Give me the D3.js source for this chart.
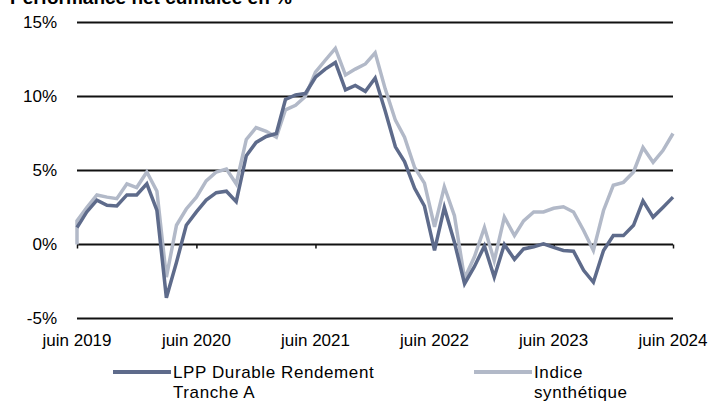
<!DOCTYPE html>
<html>
<head>
<meta charset="utf-8">
<script src="https://cdn.jsdelivr.net/npm/d3@7"></script>
<style>
  body { margin: 0; background: #fff; }
  text { font-family: "Liberation Sans", Arial, sans-serif; fill: #000; }
</style>
</head>
<body>
<script>
// monthly points, juin 2019 -> juin 2024
const startDate = new Date(2019, 5, 1);
const endDate = new Date(2024, 5, 1);
const months = d3.timeMonth.range(startDate, d3.timeMonth.offset(endDate, 1));

const fund = [1.15, 2.2, 3.0, 2.65, 2.6, 3.35, 3.35, 4.1, 2.3, -3.6,
  -1.2, 1.3, 2.2, 3.0, 3.5, 3.6, 2.9, 6.0, 6.9, 7.3,
  7.5, 9.8, 10.1, 10.2, 11.3, 11.85, 12.3, 10.45, 10.75, 10.35,
  11.25, 9.0, 6.6, 5.6, 3.8, 2.6, -0.4, 2.5, 0.15, -2.65,
  -1.5, -0.1, -2.2, 0.0, -1.0, -0.3, -0.15, 0.05, -0.2, -0.4,
  -0.45, -1.75, -2.55, -0.4, 0.6, 0.6, 1.3, 2.95, 1.85, 2.5, 3.2];

const indice = [1.6, 2.5, 3.35, 3.2, 3.1, 4.1, 3.85, 4.9, 3.6, -2.2,
  1.3, 2.4, 3.2, 4.3, 4.9, 5.1, 4.1, 7.1, 7.9, 7.65,
  7.25, 9.1, 9.4, 10.0, 11.65, 12.45, 13.25, 11.45, 11.85, 12.2,
  12.95, 10.5, 8.4, 7.25, 5.2, 4.15, 1.2, 3.9, 1.95, -2.3,
  -0.85, 1.15, -1.1, 1.85, 0.6, 1.6, 2.2, 2.2, 2.45, 2.55,
  2.2, 0.95, -0.4, 2.3, 4.0, 4.2, 4.9, 6.55, 5.55, 6.35, 7.5];
const indiceStart = 0;

const yTicks = [-5, 0, 5, 10, 15];
const xTickLabels = ["juin 2019", "juin 2020", "juin 2021", "juin 2022", "juin 2023", "juin 2024"];
const seriesNames = [["LPP Durable Rendement", "Tranche A"], ["Indice", "synthétique"]];
const colors = ["#5e6b8b", "#b2b9c8"];

const W = 713, H = 401;
const svg = d3.select('body').append('svg')
              .attr('width', W)
              .attr('height', H);

const x = d3.scaleTime().domain([startDate, endDate]).range([77, 673]);
const y = d3.scaleLinear().domain([-5, 15]).range([318.5, 22.5]);

svg.append('text').attr('x', 10).attr('y', 4)
   .style('font-weight', 'bold').style('font-size', '19px')
   .text("Performance net cumulée en %");

// horizontal grid
svg.append('g').selectAll('line').data(yTicks).join('line')
   .attr('x1', x.range()[0]).attr('x2', x.range()[1])
   .attr('y1', d => y(d)).attr('y2', d => y(d))
   .style('stroke', '#111').style('stroke-width', 2);

svg.append('g').selectAll('text').data(yTicks).join('text')
   .attr('x', 57).attr('y', d => y(d)).attr('dy', '0.35em')
   .attr('text-anchor', 'end').style('font-size', '17px')
   .text(d => d + '%');

// x axis on 0 line
const yearTicks = xTickLabels.map((t, i) => new Date(2019 + i, 5, 1));
const xAxis = d3.axisBottom(x).tickValues(yearTicks)
                .tickFormat((d, i) => xTickLabels[i]).tickSize(4).tickPadding(0);
const ax = svg.append('g').attr('transform', `translate(0,${y(0)})`).call(xAxis);
ax.select('.domain').remove();
ax.selectAll('.tick line').style('stroke', '#111').style('stroke-width', 1.5);
ax.selectAll('.tick text').remove();

svg.append('g').selectAll('text').data(yearTicks).join('text')
   .attr('x', d => x(d)).attr('y', 346)
   .attr('text-anchor', 'middle').style('font-size', '17px')
   .text((d, i) => xTickLabels[i]);

const line = d3.line().x(d => x(d[0])).y(d => y(d[1]));

const indicePts = [[startDate, indiceStart]].concat(months.map((m, i) => [m, indice[i]]));
const fundPts = months.map((m, i) => [m, fund[i]]);

svg.append('path').datum(indicePts).attr('d', line)
   .style('fill', 'none').style('stroke', colors[1]).style('stroke-width', 3.5)
   .style('stroke-linejoin', 'miter');
svg.append('path').datum(fundPts).attr('d', line)
   .style('fill', 'none').style('stroke', colors[0]).style('stroke-width', 3.5)
   .style('stroke-linejoin', 'miter');

// legend
const legendX = [113, 474];
seriesNames.forEach((names, i) => {
  const g = svg.append('g').attr('transform', `translate(${legendX[i]},372)`);
  g.append('line').attr('x1', 0).attr('x2', 58)
   .style('stroke', colors[i]).style('stroke-width', 4);
  names.forEach((n, j) => {
    g.append('text').attr('x', 60).attr('y', 6 + j * 20)
     .style('font-size', '17px').style('letter-spacing', '0.6px').text(n);
  });
});
</script>
</body>
</html>
